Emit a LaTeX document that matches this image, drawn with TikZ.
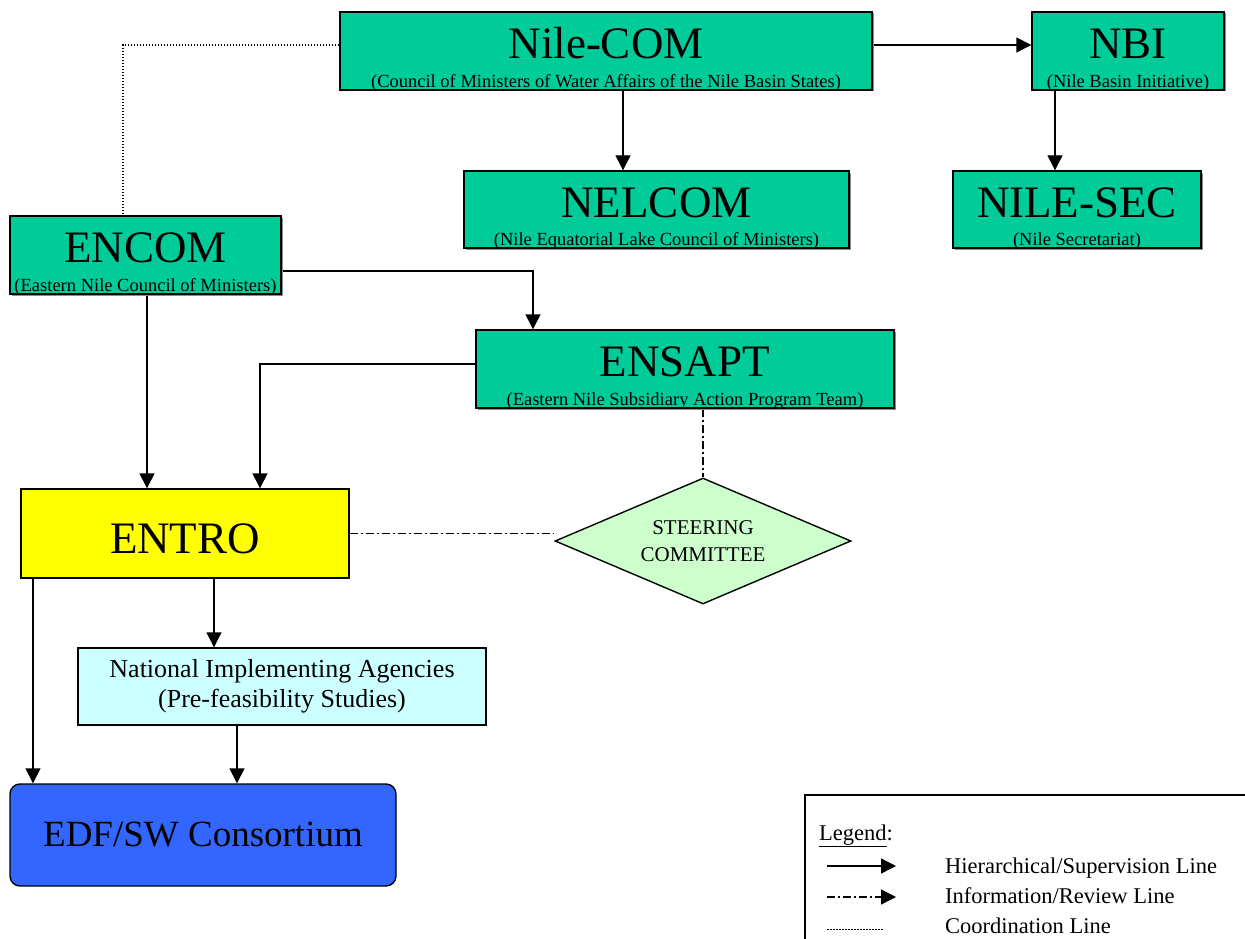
\documentclass[tikz,border=0pt]{standalone}
\usepackage{fontspec}
\setmainfont{Liberation Serif}
\usetikzlibrary{arrows.meta,shapes.geometric,shadows,backgrounds}

\definecolor{nilegreen}{RGB}{0,204,153}
\definecolor{entroyellow}{RGB}{255,255,0}
\definecolor{agencycyan}{RGB}{204,255,255}
\definecolor{steergreen}{RGB}{204,255,204}
\definecolor{edfblue}{RGB}{51,102,255}

\tikzset{
  orgbox/.style={draw, line width=1.4pt, fill=nilegreen, inner sep=1pt,
    text height=33pt, text depth=18pt, font=\fontsize{45}{50}\selectfont,
    drop shadow={shadow xshift=1.5pt, shadow yshift=-1.5pt, fill=black!45, opacity=1}},
  subtitle/.style={font=\fontsize{18.5}{20}\selectfont, inner sep=0pt, anchor=south, yshift=-1pt},
  hier/.style={line width=1.4pt, -{Triangle[length=15pt,width=15pt]}},
  infoline/.style={line width=1.4pt, dash pattern=on 8pt off 3pt on 2pt off 3pt},
  coordline/.style={line width=1.3pt, dash pattern=on 1.5pt off 1.5pt},
  legendtext/.style={font=\fontsize{22.5}{26}\selectfont, inner sep=0pt, anchor=base west}
}

\begin{document}
\begin{tikzpicture}[x=1pt, y=-1pt]
\useasboundingbox (0,0) rectangle (1245,939);
\clip (0,0) rectangle (1245,939);

% boxes
\node[orgbox, minimum width=532pt, minimum height=78pt,
  label={[subtitle]south:(Council of Ministers of Water Affairs of the Nile Basin States)}]
  (nilecom) at (606,51) {Nile-COM};
\node[orgbox, minimum width=192pt, minimum height=78pt,
  label={[subtitle]south:(Nile Basin Initiative)}]
  (nbi) at (1128,51) {NBI};
\node[orgbox, minimum width=385pt, minimum height=77pt,
  label={[subtitle]south:(Nile Equatorial Lake Council of Ministers)}]
  (nelcom) at (656.5,209.5) {NELCOM};
\node[orgbox, minimum width=248pt, minimum height=77pt,
  label={[subtitle]south:(Nile Secretariat)}]
  (nilesec) at (1077,209.5) {NILE-SEC};
\node[orgbox, minimum width=271pt, minimum height=78pt,
  label={[subtitle]south:(Eastern Nile Council of Ministers)}]
  (encom) at (145.5,255) {ENCOM};
\node[orgbox, minimum width=418pt, minimum height=78pt,
  label={[subtitle]south:(Eastern Nile Subsidiary Action Program Team)}]
  (ensapt) at (685,369) {ENSAPT};

\node[draw, line width=1.4pt, fill=entroyellow, minimum width=328pt, minimum height=89pt,
  text height=39pt, text depth=0pt, font=\fontsize{45}{50}\selectfont]
  (entro) at (185,533.5) {ENTRO};
\node[draw, line width=1.4pt, fill=steergreen, shape=diamond, aspect=2.35,
  minimum width=296pt, minimum height=126pt, inner sep=0pt, align=center,
  font=\fontsize{21}{27.5}\selectfont]
  (steer) at (703,541) {STEERING\\COMMITTEE};
\node[draw, line width=1.4pt, fill=agencycyan, minimum width=408pt, minimum height=77pt,
  align=center, font=\fontsize{26}{30}\selectfont]
  (nia) at (282,686.5) {National Implementing Agencies\\(Pre-feasibility Studies)};
\node[draw, line width=1.4pt, fill=edfblue, rounded corners=10pt, minimum width=386pt,
  minimum height=102pt, font=\fontsize{37}{42}\selectfont]
  (edf) at (203,835) {EDF/SW Consortium};

% lines
\begin{scope}[on background layer]
\draw[hier] ([yshift=6pt]nilecom.east) -- ([yshift=6pt]nilecom.east -| nbi.west);
\draw[hier] ([xshift=-33.5pt]nelcom.north |- nilecom.south) -- ([xshift=-33.5pt]nelcom.north);
\draw[hier] ([xshift=-73pt]nbi.south) -- ([xshift=-73pt]nbi.south |- nilesec.north);
\draw[coordline] ([yshift=6pt]nilecom.west) -| ([xshift=-22.5pt]encom.north);
\draw[hier] ([yshift=-16pt]encom.east) -| ([xshift=-152pt]ensapt.north);
\draw[hier] ([xshift=1.5pt]encom.south) -- ([xshift=1.5pt]encom.south |- entro.north);
\draw[hier] ([yshift=5pt]ensapt.west) -| ([xshift=75pt]entro.north);
\draw[infoline] (ensapt.south -| steer.north) -- (steer.north);
\draw[infoline] (entro.east) -- (entro.east -| steer.west);
\draw[hier] ([xshift=29pt]entro.south) -- ([xshift=29pt]entro.south |- nia.north);
\draw[hier] ([xshift=-152pt]entro.south) -- ([xshift=-152pt]entro.south |- edf.north);
\draw[hier] ([xshift=-45pt]nia.south) -- ([xshift=-45pt]nia.south |- edf.north);
\end{scope}

% legend
\draw[line width=1.8pt] (805,795) rectangle (1265,960);
\node[legendtext] (legtitle) at (819,840) {\underline{Legend}:};
\coordinate (hierA) at (827,866);
\coordinate (hierB) at (896,866);
\coordinate (infoA) at (827,897);
\coordinate (infoB) at (896,897);
\coordinate (coordA) at (827,929);
\coordinate (coordB) at (883,929);
\draw[hier] (hierA) -- (hierB);
\draw[infoline, -{Triangle[length=15pt,width=15pt]}] (infoA) -- (infoB);
\draw[coordline, line width=0.8pt] (coordA) -- (coordB);
\node[legendtext] (hiertext) at (945,873) {Hierarchical/Supervision Line};
\node[legendtext] (infotext) at (945,903) {Information/Review Line};
\node[legendtext] (coordtext) at (945,933) {Coordination Line};
\end{tikzpicture}
\end{document}
